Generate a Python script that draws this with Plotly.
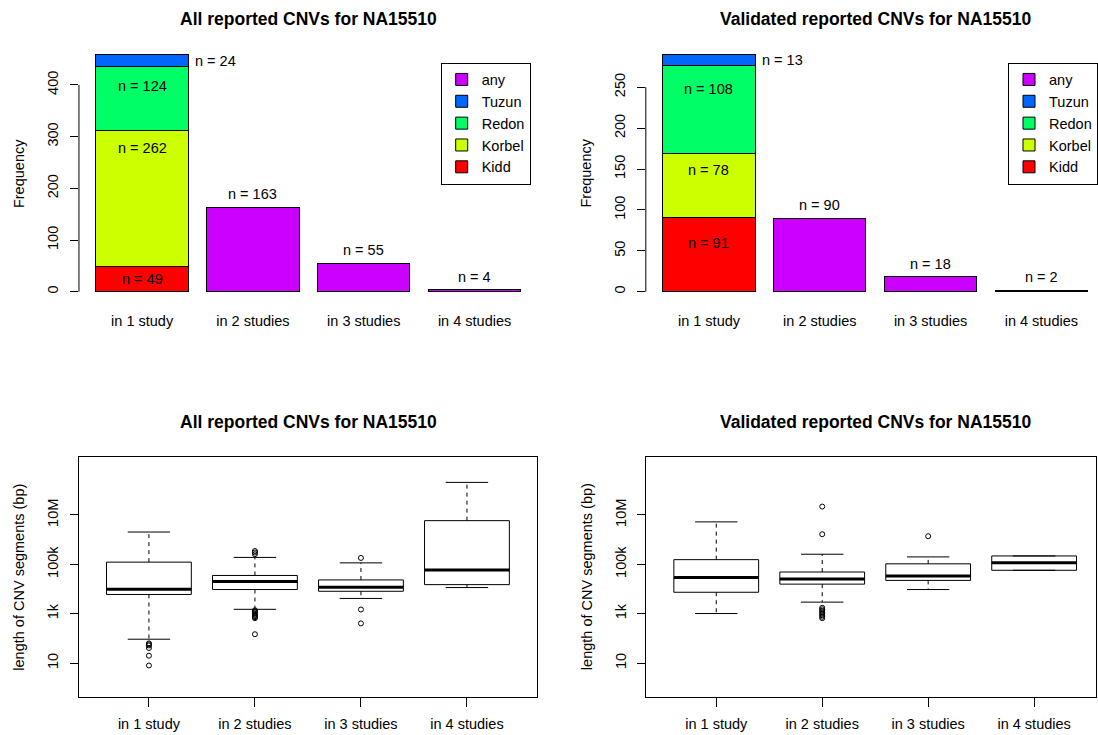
import plotly.graph_objects as go

# ---- data -------------------------------------------------------------
categories = ["in 1 study", "in 2 studies", "in 3 studies", "in 4 studies"]
studies = ["Kidd", "Korbel", "Redon", "Tuzun"]
study_colors = ["#FF0000", "#CCFF00", "#00FF66", "#0066FF"]
any_color = "#CC00FF"

# CNV counts: "in 1 study" split by study, the rest pooled as "any"
all_single = [49, 262, 124, 24]
all_multi = [163, 55, 4]
val_single = [91, 78, 108, 13]
val_multi = [90, 18, 2]

# segment length summaries (bp) per category
all_lower = [93, 1510, 4170, 11500]
all_q1 = [6030, 9550, 8130, 15100]
all_median = [9770, 20400, 11700, 58900]
all_q3 = [123000, 35500, 23400, 5890000]
all_upper = [2040000, 191000, 115000, 209000000]
all_outliers = [
    [63, 58, 52, 41, 20, 8],
    [347000, 302000, 257000, 1380, 1260, 1120, 1000, 890, 794, 724, 661, 148],
    [182000, 1480, 407],
    [],
]

val_lower = [1020, 2950, 9550, 57500]
val_q1 = [7410, 15800, 22400, 57500]
val_median = [29500, 25700, 33900, 115000]
val_q3 = [155000, 49000, 105000, 219000]
val_upper = [5250000, 257000, 200000, 219000]
val_outliers = [
    [],
    [21900000, 1660000, 1740, 1510, 1320, 1150, 1000, 871, 759, 661],
    [1380000],
    [],
]

freq_ticks_all = [0, 100, 200, 300, 400]
freq_ticks_val = [0, 50, 100, 150, 200, 250]
len_tickvals = [10, 1e3, 1e5, 1e7]
len_ticktext = ["10", "1k", "100k", "10M"]

# ---- styling ----------------------------------------------------------
W, H = 1098, 735
FONT = "Liberation Sans, Arial, sans-serif"
FS = 14.5


def px_x(p):
    return p / W


def px_y(p):
    return 1 - p / H


bar_centers = [0.7, 1.9, 3.1, 4.3]
# vertical offsets (px) of the in-bar count labels below each segment top
drop_all = [13, 17, 19]
drop_val = [26, 17, 24]

fig = go.Figure()
annotations = []
shapes = []


def add_bars(single, multi, xa, ya, legend, drops):
    cum = 0
    tops = []
    for name, col, v in zip(studies, study_colors, single):
        fig.add_trace(go.Bar(
            x=[bar_centers[0]], y=[v], name=name, width=1,
            marker=dict(color=col, line=dict(color="black", width=1)),
            xaxis=xa, yaxis=ya, legend=legend, hoverinfo="skip"))
        cum += v
        tops.append(cum)
    fig.add_trace(go.Bar(
        x=bar_centers[1:], y=multi, name="any", width=1,
        marker=dict(color=any_color, line=dict(color="black", width=1)),
        xaxis=xa, yaxis=ya, legend=legend, hoverinfo="skip"))
    # count labels inside the stacked bar
    for v, top, d in zip(single[:3], tops[:3], drops):
        annotations.append(dict(
            x=bar_centers[0], y=top, xref=xa, yref=ya, text=f"n = {v}",
            showarrow=False, yanchor="middle", yshift=-d,
            font=dict(family=FONT, size=FS, color="black")))
    # top segment label to the right of the bar
    annotations.append(dict(
        x=bar_centers[0] + 0.5, y=tops[3] - single[3] / 2, xref=xa, yref=ya,
        text=f"n = {single[3]}", showarrow=False, xanchor="left",
        yanchor="middle", xshift=5,
        font=dict(family=FONT, size=FS, color="black")))
    for xc, v in zip(bar_centers[1:], multi):
        annotations.append(dict(
            x=xc, y=v, xref=xa, yref=ya, text=f"n = {v}", showarrow=False,
            yanchor="bottom", yshift=3,
            font=dict(family=FONT, size=FS, color="black")))
    return cum


def add_boxes(lower, q1, med, q3, upper, outl, xa, ya):
    bx, by, mx, my, wx, wy, sx, sy, ox, oy = ([] for _ in range(10))
    for i in range(len(categories)):
        c = i + 1
        bx += [c - 0.4, c + 0.4, c + 0.4, c - 0.4, c - 0.4, None]
        by += [q1[i], q1[i], q3[i], q3[i], q1[i], None]
        mx += [c - 0.4, c + 0.4, None]
        my += [med[i], med[i], None]
        wx += [c, c, None, c, c, None]
        wy += [q3[i], upper[i], None, q1[i], lower[i], None]
        sx += [c - 0.2, c + 0.2, None, c - 0.2, c + 0.2, None]
        sy += [upper[i], upper[i], None, lower[i], lower[i], None]
        ox += [c] * len(outl[i])
        oy += outl[i]
    common = dict(xaxis=xa, yaxis=ya, showlegend=False, hoverinfo="skip",
                  mode="lines")
    fig.add_trace(go.Scatter(x=wx, y=wy, line=dict(color="black", width=1,
                                                   dash="4px,4px"), **common))
    fig.add_trace(go.Scatter(x=sx, y=sy, line=dict(color="black", width=1),
                             **common))
    fig.add_trace(go.Scatter(x=bx, y=by, line=dict(color="black", width=1),
                             **common))
    fig.add_trace(go.Scatter(x=mx, y=my, line=dict(color="black", width=3),
                             **common))
    fig.add_trace(go.Scatter(
        x=ox, y=oy, mode="markers", xaxis=xa, yaxis=ya, showlegend=False,
        hoverinfo="skip",
        marker=dict(symbol="circle-open", size=5, color="black",
                    line=dict(width=1))))


tot_all = add_bars(all_single, all_multi, "x", "y", "legend", drop_all)
tot_val = add_bars(val_single, val_multi, "x2", "y2", "legend2", drop_val)
add_boxes(all_lower, all_q1, all_median, all_q3, all_upper, all_outliers,
          "x3", "y3")
add_boxes(val_lower, val_q1, val_median, val_q3, val_upper, val_outliers,
          "x4", "y4")

# ---- axes -------------------------------------------------------------
top_dom_y = [px_y(301.2), px_y(45.0)]
bot_dom_y = [px_y(696.7), px_y(456.7)]
tickfont = dict(family=FONT, size=FS, color="black")

bar_x_common = dict(showgrid=False, zeroline=False, showline=False,
                    ticks="", tickvals=bar_centers, ticktext=categories,
                    tickfont=tickfont, ticklabelstandoff=9, fixedrange=True)
box_x_common = dict(showgrid=False, zeroline=False, showline=True,
                    mirror=True, linecolor="black", linewidth=1,
                    ticks="outside", ticklen=9, tickcolor="black",
                    tickvals=[1, 2, 3, 4], ticktext=categories,
                    tickfont=tickfont, ticklabelstandoff=5)
y_common = dict(showgrid=False, zeroline=False, ticks="outside", ticklen=8,
                tickcolor="black", tickangle=-90, tickfont=tickfont,
                ticklabelstandoff=6)


def ext(lo, hi):
    d = (hi - lo) * 0.04
    return [lo - d, hi + d]


fig.update_layout(
    xaxis=dict(domain=[px_x(79.1), px_x(538.7)], range=[0.016, 4.984],
               anchor="y", **bar_x_common),
    yaxis=dict(domain=top_dom_y, range=ext(0, tot_all), anchor="x",
               showline=False, tickvals=freq_ticks_all, **y_common),
    xaxis2=dict(domain=[px_x(647.0), 1.0], range=[0.016, 4.892],
                anchor="y2", **bar_x_common),
    yaxis2=dict(domain=top_dom_y, range=ext(0, tot_val), anchor="x2",
                showline=False, tickvals=freq_ticks_val, **y_common),
    xaxis3=dict(domain=[px_x(79.1), px_x(537.9)], range=[0.34, 4.66],
                anchor="y3", **box_x_common),
    yaxis3=dict(domain=bot_dom_y, type="log", range=ext(0, 9), anchor="x3",
                showline=True, mirror=True, linecolor="black", linewidth=1,
                tickvals=len_tickvals, ticktext=len_ticktext, **y_common),
    xaxis4=dict(domain=[px_x(647.5), 1.0], range=[0.34, 4.584],
                anchor="y4", **box_x_common),
    yaxis4=dict(domain=bot_dom_y, type="log", range=ext(0, 9), anchor="x4",
                showline=True, mirror=True, linecolor="black", linewidth=1,
                tickvals=len_tickvals, ticktext=len_ticktext, **y_common),
)

# frequency axis lines span only the labelled tick range
for ya, xa, ticks in (("y", "x", freq_ticks_all), ("y2", "x2", freq_ticks_val)):
    shapes.append(dict(type="line", xref=f"{xa} domain", yref=ya, x0=0, x1=0,
                       y0=ticks[0], y1=ticks[-1],
                       line=dict(color="black", width=1)))

# ---- titles -----------------------------------------------------------
titles = [
    ("All reported CNVs for NA15510", (79.1 + 538.7) / 2, 19.5),
    ("Validated reported CNVs for NA15510", (647.0 + 1106.5) / 2, 19.5),
    ("All reported CNVs for NA15510", (79.1 + 538.7) / 2, 422),
    ("Validated reported CNVs for NA15510", (647.0 + 1106.5) / 2, 422),
]
for text, cx, cy in titles:
    annotations.append(dict(
        x=px_x(cx), y=px_y(cy), xref="paper", yref="paper",
        text=f"<b>{text}</b>", showarrow=False, xanchor="center",
        yanchor="middle", font=dict(family=FONT, size=17.5, color="black")))

ytitles = [
    ("Frequency", 19.0, (45.0 + 301.2) / 2),
    ("Frequency", 587.5, (45.0 + 301.2) / 2),
    ("length of CNV segments (bp)", 19.0, (456.7 + 696.7) / 2),
    ("length of CNV segments (bp)", 587.5, (456.7 + 696.7) / 2),
]
for text, cx, cy in ytitles:
    annotations.append(dict(
        x=px_x(cx), y=px_y(cy), xref="paper", yref="paper", text=text,
        showarrow=False, textangle=-90, xanchor="center", yanchor="middle",
        font=dict(family=FONT, size=FS, color="black")))

legend_style = dict(bordercolor="black", borderwidth=1, bgcolor="white",
                    traceorder="reversed", xanchor="left", yanchor="top",
                    font=dict(family=FONT, size=FS, color="black"),
                    itemclick=False, itemdoubleclick=False)

fig.update_layout(
    width=W, height=H,
    margin=dict(l=0, r=0, t=0, b=0),
    paper_bgcolor="white", plot_bgcolor="white",
    barmode="stack",
    font=dict(family=FONT, size=FS, color="black"),
    legend=dict(x=px_x(441.5), y=px_y(62.5), **legend_style),
    legend2=dict(x=px_x(1010.0), y=px_y(62.5), **legend_style),
    annotations=annotations,
    shapes=shapes,
)

fig.write_html("out.html")
